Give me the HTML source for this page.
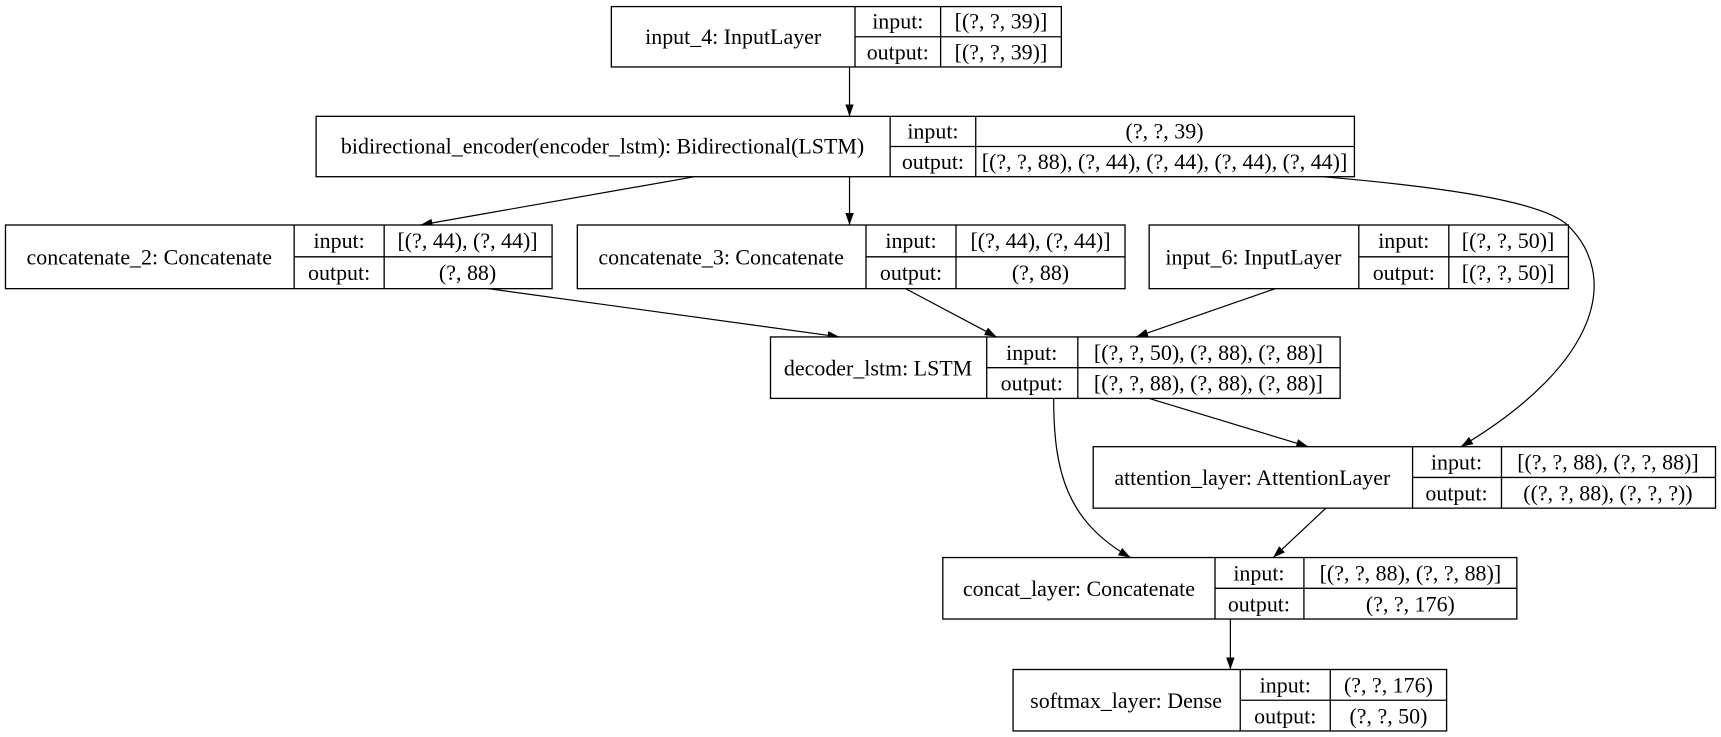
<!DOCTYPE html>
<html><head><meta charset="utf-8"><style>
html,body{margin:0;padding:0;background:#fff;}
svg{display:block;}
text{font-family:"Liberation Serif",serif;font-size:20px;fill:#000;}
</style></head><body>
<svg width="1721" height="737" viewBox="0 0 1568 671.5" preserveAspectRatio="none" xmlns="http://www.w3.org/2000/svg">
<defs><marker id="a" viewBox="0 0 10 10" refX="10" refY="5" markerWidth="11" markerHeight="11" markerUnits="userSpaceOnUse" orient="auto"><path d="M0,1.5 L10,5 L0,8.5 Z" fill="#000"/></marker></defs>
<g fill="none" stroke="#000" stroke-width="1.1">
<path d="M774,61 L774,106" marker-end="url(#a)"/>
<path d="M633,161 L383,205" marker-end="url(#a)"/>
<path d="M774,161 L774,205" marker-end="url(#a)"/>
<path d="M1205,161 C1310,170 1405,183 1428,205 C1475,250 1460,330 1331,407" marker-end="url(#a)"/>
<path d="M445,263 L765,307" marker-end="url(#a)"/>
<path d="M825,263 L908,307" marker-end="url(#a)"/>
<path d="M1162,263 L1035,307" marker-end="url(#a)"/>
<path d="M1047,363 L1192,407" marker-end="url(#a)"/>
<path d="M960,363 C960,430 972,475 1030,508" marker-end="url(#a)"/>
<path d="M1208,463 L1160,508" marker-end="url(#a)"/>
<path d="M1121,564 L1121,610" marker-end="url(#a)"/>
</g>
<g fill="#fff" stroke="#000" stroke-width="1.2">
<rect x="557" y="6" width="410" height="55"/><path d="M779,6V61M857,6V61M779,33.5H967"/>
<rect x="288" y="106" width="946" height="55"/><path d="M811,106V161M889,106V161M811,133.5H1234"/>
<rect x="5" y="205" width="498" height="58"/><path d="M268,205V263M350,205V263M268,234H503"/>
<rect x="526" y="205" width="499" height="58"/><path d="M789,205V263M871,205V263M789,234H1025"/>
<rect x="1047" y="205" width="382" height="58"/><path d="M1238,205V263M1320,205V263M1238,234H1429"/>
<rect x="702" y="307" width="519" height="56"/><path d="M899,307V363M982,307V363M899,335H1221"/>
<rect x="996" y="407" width="567" height="56"/><path d="M1287,407V463M1368,407V463M1287,435H1563"/>
<rect x="859" y="508" width="523" height="56"/><path d="M1107,508V564M1188,508V564M1107,536H1382"/>
<rect x="923" y="610" width="395" height="56"/><path d="M1130,610V666M1212,610V666M1130,638H1318"/>
</g>
<g text-anchor="middle">
<text x="668" y="40">input_4: InputLayer</text><text x="818" y="26">input:</text><text x="818" y="54">output:</text><text x="912" y="26">[(?, ?, 39)]</text><text x="912" y="54">[(?, ?, 39)]</text>
<text x="549" y="140">bidirectional_encoder(encoder_lstm): Bidirectional(LSTM)</text><text x="850" y="126">input:</text><text x="850" y="154">output:</text><text x="1061" y="126">(?, ?, 39)</text><text x="1061" y="154">[(?, ?, 88), (?, 44), (?, 44), (?, 44), (?, 44)]</text>
<text x="136" y="241">concatenate_2: Concatenate</text><text x="309" y="226">input:</text><text x="309" y="255">output:</text><text x="426" y="226">[(?, 44), (?, 44)]</text><text x="426" y="255">(?, 88)</text>
<text x="657" y="241">concatenate_3: Concatenate</text><text x="830" y="226">input:</text><text x="830" y="255">output:</text><text x="948" y="226">[(?, 44), (?, 44)]</text><text x="948" y="255">(?, 88)</text>
<text x="1142" y="241">input_6: InputLayer</text><text x="1279" y="226">input:</text><text x="1279" y="255">output:</text><text x="1374" y="226">[(?, ?, 50)]</text><text x="1374" y="255">[(?, ?, 50)]</text>
<text x="800" y="342">decoder_lstm: LSTM</text><text x="940" y="328">input:</text><text x="940" y="356">output:</text><text x="1101" y="328">[(?, ?, 50), (?, 88), (?, 88)]</text><text x="1101" y="356">[(?, ?, 88), (?, 88), (?, 88)]</text>
<text x="1141" y="442">attention_layer: AttentionLayer</text><text x="1327" y="428">input:</text><text x="1327" y="456">output:</text><text x="1465" y="428">[(?, ?, 88), (?, ?, 88)]</text><text x="1465" y="456">((?, ?, 88), (?, ?, ?))</text>
<text x="983" y="543">concat_layer: Concatenate</text><text x="1147" y="529">input:</text><text x="1147" y="557">output:</text><text x="1285" y="529">[(?, ?, 88), (?, ?, 88)]</text><text x="1285" y="557">(?, ?, 176)</text>
<text x="1026" y="645">softmax_layer: Dense</text><text x="1171" y="631">input:</text><text x="1171" y="659">output:</text><text x="1265" y="631">(?, ?, 176)</text><text x="1265" y="659">(?, ?, 50)</text>
</g>
</svg>
</body></html>
